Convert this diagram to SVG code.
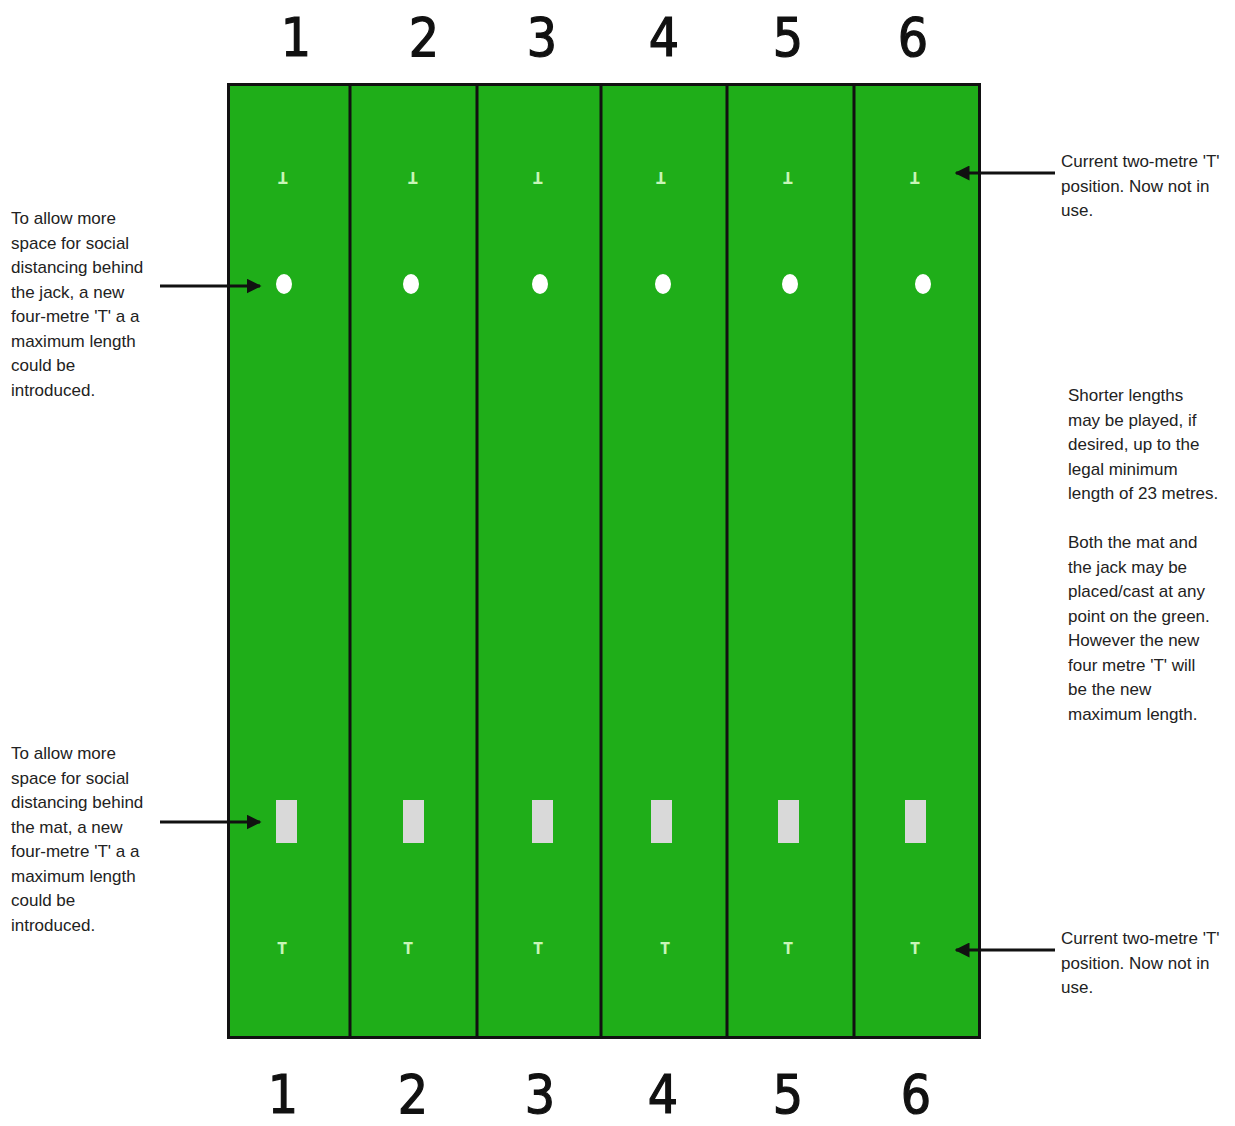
<svg xmlns="http://www.w3.org/2000/svg" width="1235" height="1126" viewBox="0 0 1235 1126">
<defs>
<style>
.num{font-family:"DejaVu Sans Condensed","DejaVu Sans",sans-serif;font-size:53px;fill:#111;stroke:#111;stroke-width:1.2px;text-anchor:middle}
.lbl{font-family:"Liberation Sans",Arial,sans-serif;font-size:17px;fill:#222}
.tee{font-family:"DejaVu Sans Condensed","DejaVu Sans",sans-serif;font-size:15px;font-weight:bold;fill:#c8f5b8;text-anchor:middle}
.jack{fill:#ffffff}
.mat{fill:#d9d9d9}
.div{stroke:#111;stroke-width:3}
.arr{stroke:#111;stroke-width:3;fill:none}
</style>
<marker id="ah" viewBox="0 0 10 10" refX="9" refY="5" markerWidth="5" markerHeight="5" orient="auto" markerUnits="strokeWidth">
<path d="M0,0 L10,5 L0,10 z" fill="#111"/>
</marker>
</defs>
<rect width="1235" height="1126" fill="#ffffff"/>
<g id="numbers-top">
<text class="num" x="296" y="56">1</text>
<text class="num" x="424" y="56">2</text>
<text class="num" x="542" y="56">3</text>
<text class="num" x="664" y="56">4</text>
<text class="num" x="788" y="56">5</text>
<text class="num" x="913" y="56">6</text>
</g>
<g id="green">
<rect x="228.5" y="84.5" width="751" height="953" fill="#1fae19" stroke="#111" stroke-width="3"/>
<line class="div" x1="350" y1="84" x2="350" y2="1038"/>
<line class="div" x1="477" y1="84" x2="477" y2="1038"/>
<line class="div" x1="601" y1="84" x2="601" y2="1038"/>
<line class="div" x1="727" y1="84" x2="727" y2="1038"/>
<line class="div" x1="854" y1="84" x2="854" y2="1038"/>
</g>
<g id="tees-top">
<text class="tee" transform="translate(283,172) rotate(180)">T</text>
<text class="tee" transform="translate(413,172) rotate(180)">T</text>
<text class="tee" transform="translate(538,172) rotate(180)">T</text>
<text class="tee" transform="translate(661,172) rotate(180)">T</text>
<text class="tee" transform="translate(788,172) rotate(180)">T</text>
<text class="tee" transform="translate(915,172) rotate(180)">T</text>
</g>
<g id="jacks">
<ellipse class="jack" cx="284" cy="284" rx="8" ry="10"/>
<ellipse class="jack" cx="411" cy="284" rx="8" ry="10"/>
<ellipse class="jack" cx="540" cy="284" rx="8" ry="10"/>
<ellipse class="jack" cx="663" cy="284" rx="8" ry="10"/>
<ellipse class="jack" cx="790" cy="284" rx="8" ry="10"/>
<ellipse class="jack" cx="923" cy="284" rx="8" ry="10"/>
</g>
<g id="mats">
<rect class="mat" x="276" y="800" width="21" height="43"/>
<rect class="mat" x="403" y="800" width="21" height="43"/>
<rect class="mat" x="532" y="800" width="21" height="43"/>
<rect class="mat" x="651" y="800" width="21" height="43"/>
<rect class="mat" x="778" y="800" width="21" height="43"/>
<rect class="mat" x="905" y="800" width="21" height="43"/>
</g>
<g id="tees-bottom">
<text class="tee" x="282" y="954">T</text>
<text class="tee" x="408" y="954">T</text>
<text class="tee" x="538" y="954">T</text>
<text class="tee" x="665" y="954">T</text>
<text class="tee" x="788" y="954">T</text>
<text class="tee" x="915" y="954">T</text>
</g>
<g id="numbers-bottom">
<text class="num" x="283" y="1113">1</text>
<text class="num" x="413" y="1113">2</text>
<text class="num" x="540" y="1113">3</text>
<text class="num" x="663" y="1113">4</text>
<text class="num" x="788" y="1113">5</text>
<text class="num" x="916" y="1113">6</text>
</g>
<g id="connectors">
<line class="arr" x1="160" y1="286" x2="260" y2="286" marker-end="url(#ah)"/>
<line class="arr" x1="160" y1="822" x2="260" y2="822" marker-end="url(#ah)"/>
<line class="arr" x1="1055" y1="173" x2="956" y2="173" marker-end="url(#ah)"/>
<line class="arr" x1="1055" y1="950" x2="956" y2="950" marker-end="url(#ah)"/>
</g>
<g id="note-jack">
<text class="lbl" x="11" y="224">To allow more</text>
<text class="lbl" x="11" y="248.5">space for social</text>
<text class="lbl" x="11" y="273">distancing behind</text>
<text class="lbl" x="11" y="297.5">the jack, a new</text>
<text class="lbl" x="11" y="322">four-metre 'T' a a</text>
<text class="lbl" x="11" y="346.5">maximum length</text>
<text class="lbl" x="11" y="371">could be</text>
<text class="lbl" x="11" y="395.5">introduced.</text>
</g>
<g id="note-mat">
<text class="lbl" x="11" y="759">To allow more</text>
<text class="lbl" x="11" y="783.5">space for social</text>
<text class="lbl" x="11" y="808">distancing behind</text>
<text class="lbl" x="11" y="832.5">the mat, a new</text>
<text class="lbl" x="11" y="857">four-metre 'T' a a</text>
<text class="lbl" x="11" y="881.5">maximum length</text>
<text class="lbl" x="11" y="906">could be</text>
<text class="lbl" x="11" y="930.5">introduced.</text>
</g>
<g id="note-top-right">
<text class="lbl" x="1061" y="167">Current two-metre 'T'</text>
<text class="lbl" x="1061" y="191.5">position. Now not in</text>
<text class="lbl" x="1061" y="216">use.</text>
</g>
<g id="note-middle-right">
<text class="lbl" x="1068" y="401">Shorter lengths</text>
<text class="lbl" x="1068" y="425.5">may be played, if</text>
<text class="lbl" x="1068" y="450">desired, up to the</text>
<text class="lbl" x="1068" y="474.5">legal minimum</text>
<text class="lbl" x="1068" y="499">length of 23 metres.</text>
<text class="lbl" x="1068" y="548">Both the mat and</text>
<text class="lbl" x="1068" y="572.5">the jack may be</text>
<text class="lbl" x="1068" y="597">placed/cast at any</text>
<text class="lbl" x="1068" y="621.5">point on the green.</text>
<text class="lbl" x="1068" y="646">However the new</text>
<text class="lbl" x="1068" y="670.5">four metre 'T' will</text>
<text class="lbl" x="1068" y="695">be the new</text>
<text class="lbl" x="1068" y="719.5">maximum length.</text>
</g>
<g id="note-bottom-right">
<text class="lbl" x="1061" y="944">Current two-metre 'T'</text>
<text class="lbl" x="1061" y="968.5">position. Now not in</text>
<text class="lbl" x="1061" y="993">use.</text>
</g>
</svg>
